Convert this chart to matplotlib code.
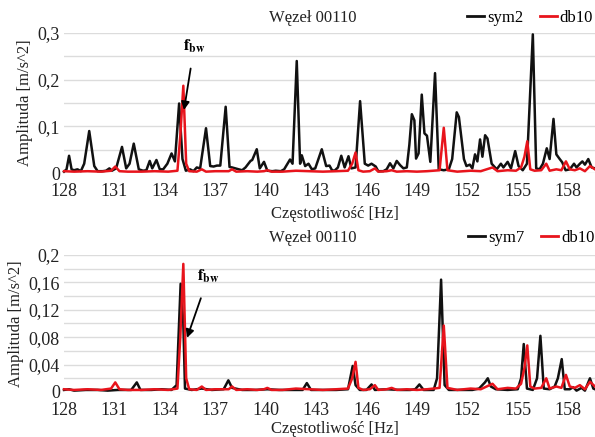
import matplotlib
matplotlib.use("Agg")
import matplotlib.pyplot as plt
from matplotlib.lines import Line2D

# --- data ---
sym2_hz = [128.0, 128.15, 128.3, 128.45, 128.6, 128.8, 129.0, 129.2, 129.5, 129.8,
           130.0, 130.3, 130.5, 130.7, 130.85, 131.1, 131.45, 131.7, 131.9, 132.15,
           132.45, 132.7, 132.9, 133.1, 133.25, 133.5, 133.7, 133.9, 134.15, 134.4,
           134.6, 134.85, 135.05, 135.25, 135.5, 135.7, 135.9, 136.1, 136.45, 136.7,
           136.9, 137.1, 137.3, 137.62, 137.85, 138.0, 138.2, 138.4, 138.6, 138.8,
           139.1, 139.2, 139.47, 139.65, 139.9, 140.1, 140.4, 140.6, 140.9, 141.1,
           141.45, 141.6, 141.85, 142.05, 142.15, 142.35, 142.55, 142.75, 142.95, 143.34,
           143.6, 143.8, 143.95, 144.1, 144.3, 144.5, 144.7, 144.93, 145.1, 145.35,
           145.62, 145.9, 146.1, 146.3, 146.55, 146.7, 147.0, 147.2, 147.4, 147.6,
           147.8, 148.0, 148.2, 148.4, 148.55, 148.7, 148.85, 148.95, 149.1, 149.29,
           149.45, 149.6, 149.8, 150.08, 150.3, 150.6, 150.9, 151.1, 151.37, 151.5,
           151.8, 151.95, 152.15, 152.3, 152.46, 152.6, 152.76, 152.9, 153.06, 153.2,
           153.45, 153.75, 154.0, 154.15, 154.4, 154.6, 154.85, 155.05, 155.3, 155.55,
           155.9, 156.1, 156.3, 156.5, 156.73, 156.9, 157.13, 157.3, 157.5, 157.65,
           157.85, 158.1, 158.35, 158.5, 158.7, 158.85, 159.0, 159.2, 159.4, 159.6]
sym2_amp = [0.003, 0.008, 0.037, 0.008, 0.006, 0.008, 0.004, 0.02, 0.09, 0.015,
            0.004, 0.004, 0.005, 0.01, 0.005, 0.01, 0.056, 0.01, 0.02, 0.063,
            0.008, 0.005, 0.006, 0.026, 0.01, 0.028, 0.008, 0.008, 0.02, 0.042,
            0.025, 0.149, 0.03, 0.005, 0.008, 0.004, 0.012, 0.01, 0.096, 0.015,
            0.014, 0.016, 0.016, 0.142, 0.013, 0.012, 0.01, 0.008, 0.006, 0.012,
            0.026, 0.028, 0.051, 0.01, 0.024, 0.005, 0.004, 0.005, 0.004, 0.008,
            0.029, 0.02, 0.24, 0.02, 0.038, 0.015, 0.02, 0.008, 0.01, 0.051,
            0.015, 0.016, 0.006, 0.005, 0.012, 0.037, 0.012, 0.036, 0.01, 0.012,
            0.154, 0.02, 0.016, 0.02, 0.014, 0.004, 0.004, 0.008, 0.021, 0.01,
            0.026, 0.017, 0.01, 0.012, 0.06, 0.126, 0.113, 0.031, 0.042, 0.168,
            0.085, 0.08, 0.024, 0.214, 0.008, 0.006, 0.008, 0.03, 0.13, 0.12,
            0.03, 0.015, 0.018, 0.01, 0.04, 0.025, 0.072, 0.035, 0.081, 0.074,
            0.02, 0.008, 0.02, 0.012, 0.024, 0.01, 0.047, 0.015, 0.006, 0.02,
            0.297, 0.01, 0.008, 0.02, 0.053, 0.03, 0.116, 0.04, 0.03, 0.023,
            0.006, 0.008, 0.02, 0.012, 0.02, 0.025, 0.018, 0.03, 0.012, 0.01]

sym7_hz = [128.0, 128.3, 128.6, 129.3, 130.0, 130.6, 131.2, 132.0, 132.33, 132.55,
           133.2, 133.8, 134.4, 134.7, 134.94, 135.1, 135.2, 135.6, 136.2, 136.8,
           137.5, 137.78, 138.0, 138.6, 139.4, 140.1, 140.8, 141.6, 142.2, 142.45,
           142.7, 143.4, 144.2, 144.9, 145.18, 145.35, 145.6, 146.0, 146.3, 146.5,
           147.2, 148.0, 148.6, 148.9, 149.15, 149.4, 150.0, 150.2, 150.44, 150.65,
           150.9, 151.6, 152.3, 152.7, 153.05, 153.22, 153.4, 153.7, 154.4, 155.0,
           155.2, 155.36, 155.55, 155.9, 156.15, 156.35, 156.55, 156.9, 157.2, 157.39,
           157.62, 157.8, 158.1, 158.3, 158.5, 158.8, 159.0, 159.3, 159.5, 159.6]
sym7_amp = [0.003, 0.004, 0.002, 0.003, 0.003, 0.002, 0.003, 0.003, 0.014, 0.003,
            0.003, 0.004, 0.003, 0.01, 0.158, 0.1, 0.005, 0.003, 0.005, 0.003,
            0.004, 0.017, 0.006, 0.003, 0.003, 0.004, 0.003, 0.003, 0.003, 0.013,
            0.003, 0.003, 0.003, 0.004, 0.038, 0.01, 0.003, 0.003, 0.011, 0.003,
            0.004, 0.003, 0.003, 0.004, 0.011, 0.003, 0.003, 0.02, 0.164, 0.01,
            0.003, 0.003, 0.003, 0.005, 0.014, 0.02, 0.008, 0.004, 0.003, 0.004,
            0.02, 0.07, 0.005, 0.003, 0.02, 0.082, 0.005, 0.004, 0.008, 0.02,
            0.048, 0.004, 0.004, 0.007, 0.002, 0.006, 0.002, 0.02, 0.005, 0.004]

db10_hz = [128.0, 128.6, 129.4, 130.2, 130.8, 131.05, 131.3, 131.8, 132.6, 133.4,
           134.2, 134.75, 134.92, 135.1, 135.27, 135.45, 135.9, 136.2, 136.45, 137.0,
           137.8, 138.0, 138.25, 138.9, 139.5, 139.9, 140.1, 140.35, 141.0, 141.8,
           142.6, 143.4, 144.2, 144.9, 145.15, 145.35, 145.52, 145.8, 146.2, 146.5,
           146.7, 147.2, 147.5, 147.8, 148.4, 149.0, 149.6, 150.35, 150.6, 150.82,
           151.4, 152.2, 152.8, 153.5, 153.8, 154.4, 154.9, 155.2, 155.4, 155.57,
           155.75, 156.0, 156.4, 156.7, 156.9, 157.3, 157.6, 157.87, 158.1, 158.4,
           158.7, 159.0, 159.3, 159.6]
db10_amp = [0.004, 0.003, 0.004, 0.003, 0.005, 0.014, 0.004, 0.003, 0.003, 0.004,
            0.003, 0.005, 0.08, 0.187, 0.02, 0.004, 0.003, 0.008, 0.003, 0.004,
            0.004, 0.008, 0.003, 0.004, 0.003, 0.004, 0.006, 0.003, 0.003, 0.005,
            0.004, 0.003, 0.004, 0.005, 0.02, 0.044, 0.006, 0.003, 0.004, 0.01,
            0.003, 0.004, 0.006, 0.003, 0.004, 0.003, 0.004, 0.006, 0.097, 0.006,
            0.003, 0.005, 0.004, 0.012, 0.004, 0.006, 0.005, 0.012, 0.035, 0.068,
            0.008, 0.005, 0.006, 0.02, 0.005, 0.008, 0.006, 0.025, 0.008, 0.006,
            0.01, 0.004, 0.015, 0.008]

x_ticks = [128, 131, 134, 137, 140, 143, 146, 149, 152, 155, 158]
top_yticks = [0, 0.1, 0.2, 0.3]
top_ylabels = ["0", "0,1", "0,2", "0,3"]
bot_yticks = [0, 0.04, 0.08, 0.12, 0.16, 0.2]
bot_ylabels = ["0", "0,04", "0,08", "0,12", "0,16", "0,2"]

plt.rcParams['font.family'] = ['Liberation Serif', 'DejaVu Serif']
plt.rcParams['mathtext.fontset'] = 'stix'

BLACK = '#111111'
RED = '#e8141c'
GRID = '#dcdcdc'
TXT = '#222222'

fig = plt.figure(figsize=(5.95, 4.37), dpi=100)
ax1 = fig.add_axes([0.1076, 0.604, 0.8924, 0.3205])
ax2 = fig.add_axes([0.1076, 0.103, 0.8924, 0.3135])


def style(ax, ymax, grid_step, yticks, ylabels, xlab_y):
    ax.set_xlim(128, 159.6)
    ax.set_ylim(0, ymax)
    for s in ax.spines.values():
        s.set_visible(False)
    g = 0.0
    while g <= ymax + 1e-9:
        ax.axhline(g, color=GRID, lw=1.0, zorder=0)
        g += grid_step
    ax.set_xticks(x_ticks)
    ax.set_xticklabels([str(t) for t in x_ticks])
    ax.set_yticks(yticks)
    ax.set_yticklabels(ylabels)
    ax.tick_params(length=0, labelsize=13, colors=TXT)
    ax.tick_params(axis='x', pad=7)
    ax.tick_params(axis='y', pad=3)
    ax.set_xlabel("Częstotliwość [Hz]", fontsize=12, color=TXT)
    ax.xaxis.set_label_coords(0.51, xlab_y)
    ax.set_ylabel("Amplituda [m/s^2]", fontsize=12, labelpad=3, color=TXT)


style(ax1, 0.3, 0.05, top_yticks, top_ylabels, -0.235)
ax1.plot(sym2_hz, sym2_amp, color=BLACK, lw=1.8, clip_on=False, zorder=3)
ax1.plot(db10_hz, db10_amp, color=RED, lw=1.8, clip_on=False, zorder=4)

style(ax2, 0.2, 0.02, bot_yticks, bot_ylabels, -0.21)
ax2.plot(sym7_hz, sym7_amp, color=BLACK, lw=1.8, clip_on=False, zorder=3)
ax2.plot(db10_hz, db10_amp, color=RED, lw=1.8, clip_on=False, zorder=4)

# f_bw annotations
ax1.annotate(r"$\mathbf{f}_{\mathbf{bw}}$", xy=(135.14, 0.135), xytext=(135.75, 0.272),
             ha='center', va='center', fontsize=12,
             arrowprops=dict(arrowstyle='-|>', color='black', lw=1.3, shrinkA=8, shrinkB=0,
                             mutation_scale=12), zorder=6)
ax2.annotate(r"$\mathbf{f}_{\mathbf{bw}}$", xy=(135.32, 0.079), xytext=(136.6, 0.169),
             ha='center', va='center', fontsize=12,
             arrowprops=dict(arrowstyle='-|>', color='black', lw=1.3, shrinkA=8, shrinkB=0,
                             mutation_scale=12), zorder=6)

# titles
fig.text(313 / 595, 1 - 18 / 437, "Węzeł 00110", ha='center', va='center', fontsize=12, color=TXT)
fig.text(313 / 595, 1 - 238 / 437, "Węzeł 00110", ha='center', va='center', fontsize=12, color=TXT)

# legends
handles = [Line2D([], [], color=BLACK, lw=2), Line2D([], [], color=RED, lw=2)]
ax1.legend(handles, ["sym2", "db10"], ncol=2, loc='center right', frameon=False,
           bbox_to_anchor=(0.997, 1 - 18 / 437), bbox_transform=fig.transFigure,
           fontsize=12, handlelength=1.0, handletextpad=0.2, columnspacing=1.0,
           borderpad=0, borderaxespad=0)
ax2.legend(handles, ["sym7", "db10"], ncol=2, loc='center right', frameon=False,
           bbox_to_anchor=(0.999, 1 - 238 / 437), bbox_transform=fig.transFigure,
           fontsize=12, handlelength=1.0, handletextpad=0.2, columnspacing=1.0,
           borderpad=0, borderaxespad=0)

fig.savefig("out.png", dpi=100)
